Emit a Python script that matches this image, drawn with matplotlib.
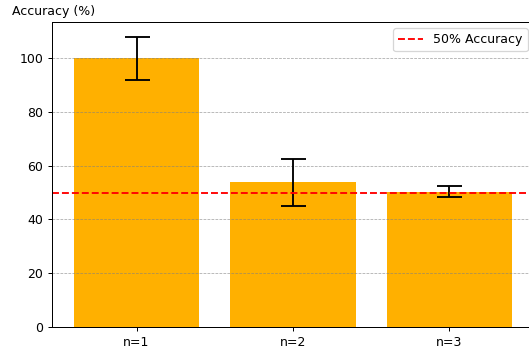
import matplotlib
matplotlib.use("Agg")
import matplotlib.pyplot as plt

categories = ["n=1", "n=2", "n=3"]
accuracy = [100.0, 53.8, 50.3]
errors = [8.0, 8.8, 2.1]
baseline = 50

DPI = 90
fig = plt.figure(figsize=(529/DPI, 353/DPI), dpi=DPI)
ax = fig.add_axes([52/529, 26/353, (534-52)/529, (327-22)/353])
ax.bar(categories, accuracy, yerr=errors, capsize=10, color="#FFB000", width=0.8,
       error_kw=dict(ecolor="black", elinewidth=1.5, capthick=1.5))
ax.axhline(baseline, color="red", linestyle="--", linewidth=1.5, label="50% Accuracy")
ax.grid(axis="y", linestyle="--", color="gray", alpha=0.7, linewidth=0.6)
ax.legend(loc="upper right")
fig.text(12/529, 1 - 11/353, "Accuracy (%)", ha="left", va="center", fontsize=10)
fig.savefig("out.png", dpi=DPI)
